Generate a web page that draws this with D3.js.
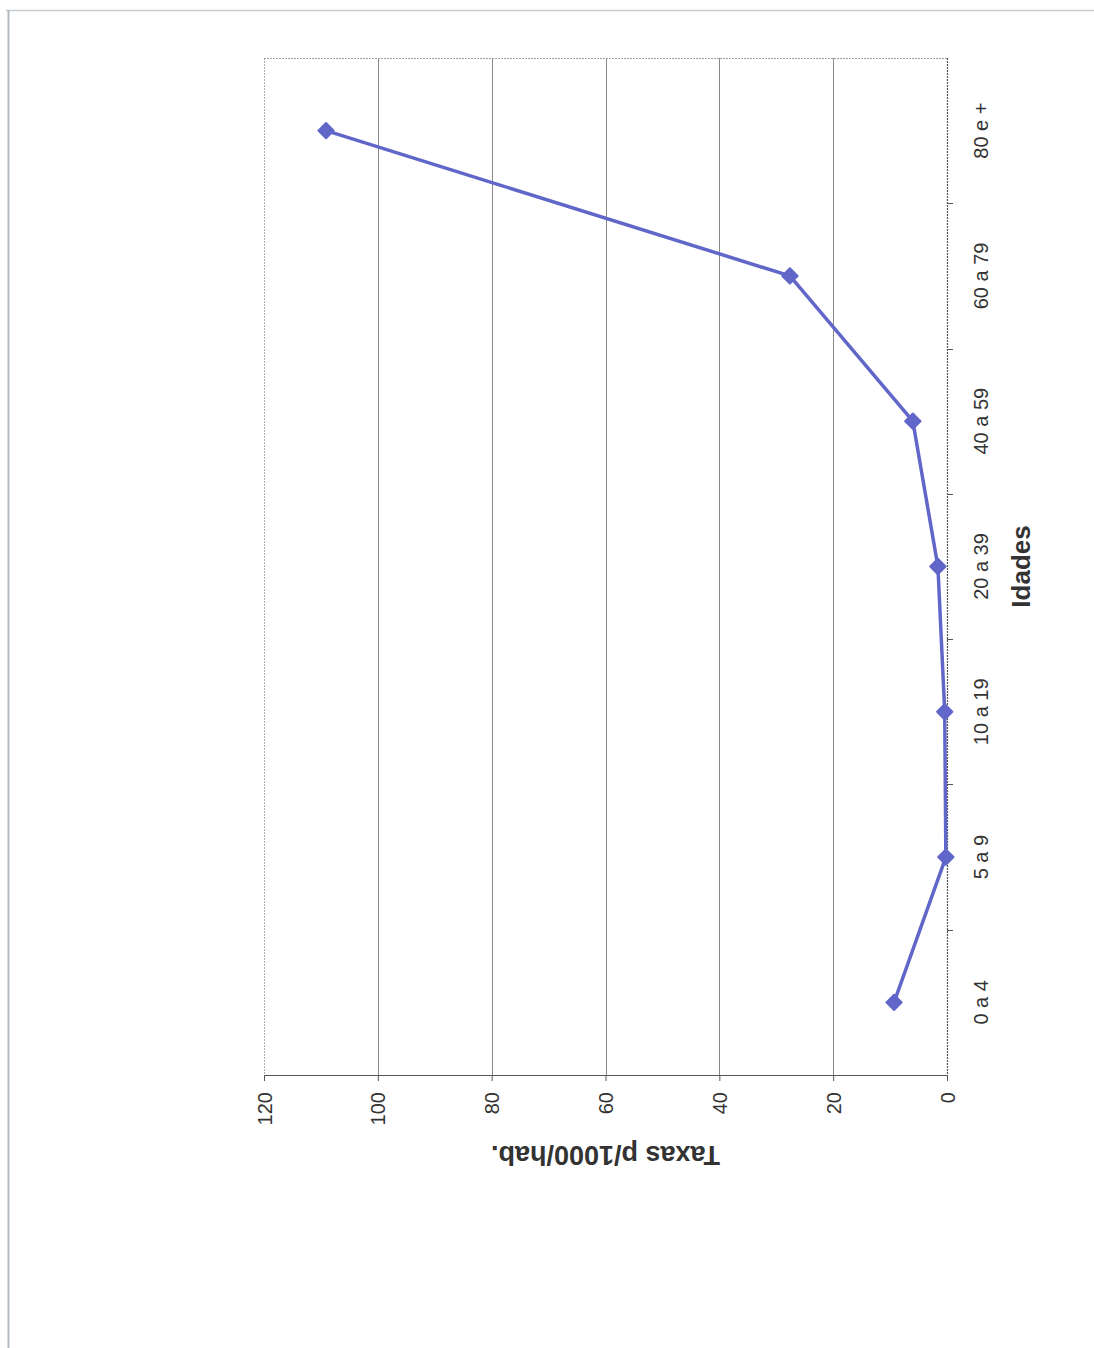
<!DOCTYPE html>
<html>
<head>
<meta charset="utf-8">
<script src="https://cdn.jsdelivr.net/npm/d3@7"></script>
<style>
  html, body { margin: 0; padding: 0; background: #fff; }
  svg { display: block; font-family: "Liberation Sans", Arial, sans-serif; }
</style>
</head>
<body>
<svg id="chart" width="1094" height="1348"></svg>
<script>
// Age groups and rates per 1000 inhabitants
const categories = ["0 a 4", "5 a 9", "10 a 19", "20 a 39", "40 a 59", "60 a 79", "80 e +"];
const rates = [9.3, 0.2, 0.4, 1.6, 6.0, 27.6, 109.1];
const rateTicks = [0, 20, 40, 60, 80, 100, 120];
const valueTitle = "Taxas p/1000/hab.";
const categoryTitle = "Idades";

const svg = d3.select("#chart");
const lineColor = "#6166c9";

// page frame
svg.append("line").attr("x1", 6).attr("x2", 1094).attr("y1", 10.5).attr("y2", 10.5)
  .attr("stroke", "#c8ccd2").attr("stroke-width", 1.5);
svg.append("line").attr("x1", 8.5).attr("x2", 8.5).attr("y1", 10).attr("y2", 1348)
  .attr("stroke", "#b4bac2").attr("stroke-width", 2);

// the chart is laid out sideways: values run right-to-left, ages bottom-to-top
const plot = { left: 264, right: 947, top: 58, bottom: 1075 };

const x = d3.scaleLinear().domain([0, 120]).range([plot.right, plot.left]);
const y = d3.scaleBand().domain(categories).range([plot.bottom, plot.top]);
const yc = d => y(d) + y.bandwidth() / 2;

// gridlines
svg.append("g").selectAll("line").data(rateTicks.filter(t => t > 0)).join("line")
  .attr("x1", d => Math.round(x(d)) + 0.5).attr("x2", d => Math.round(x(d)) + 0.5)
  .attr("y1", plot.top).attr("y2", plot.bottom)
  .attr("stroke", d => d === 120 ? "#b0b0b0" : "#8a8a8a")
  .attr("stroke-width", 1)
  .attr("stroke-dasharray", d => d === 120 ? "2,1" : null);

// top border
svg.append("line").attr("x1", plot.left).attr("x2", plot.right)
  .attr("y1", plot.top + 0.5).attr("y2", plot.top + 0.5)
  .attr("stroke", "#a0a0a0").attr("stroke-dasharray", "2,1");

// value axis (bottom)
const xAxis = d3.axisBottom(x).tickValues(rateTicks).tickSize(6).tickPadding(0).tickFormat(d3.format("d"));
const gx = svg.append("g").attr("transform", `translate(0,${plot.bottom})`).call(xAxis);
gx.select(".domain").attr("stroke", "#555").attr("stroke-width", 1.2).attr("d", `M${plot.left},0.5H${plot.right + 1}`);
gx.selectAll(".tick line").attr("stroke", "#555");
gx.selectAll(".tick text")
  .attr("font-size", 20).attr("fill", "#333")
  .attr("text-anchor", "end").attr("dy", "0.35em")
  .attr("transform", "translate(0,17) rotate(-90)")
  .attr("x", 0).attr("y", 0);

// category axis (right side)
const yAxis = d3.axisRight(y).tickSize(0).tickPadding(0);
const gy = svg.append("g").attr("transform", `translate(${plot.right},0)`).call(yAxis);
gy.select(".domain").attr("stroke", "#555").attr("stroke-width", 1.2)
  .attr("stroke-dasharray", "2,1").attr("d", `M0.5,${plot.top}V${plot.bottom}`);
gy.selectAll(".tick text")
  .attr("font-size", 20).attr("fill", "#333")
  .attr("text-anchor", "middle")
  .attr("transform", "translate(34,0) rotate(-90)")
  .attr("x", 0).attr("y", 0).attr("dy", "0.35em");
// band boundary ticks
gy.append("g").selectAll("line").data(categories.slice(0, -1)).join("line")
  .attr("x1", 0).attr("x2", 6)
  .attr("y1", d => Math.round(y(d)) + 0.5).attr("y2", d => Math.round(y(d)) + 0.5)
  .attr("stroke", "#555");

// axis titles
svg.append("text")
  .attr("transform", `translate(1021,${(plot.top + plot.bottom) / 2}) rotate(-90)`)
  .attr("text-anchor", "middle").attr("dy", "0.35em")
  .attr("font-size", 26).attr("font-weight", "bold").attr("fill", "#333")
  .text(categoryTitle);
svg.append("text")
  .attr("transform", `translate(${(plot.left + plot.right) / 2},1155) rotate(180)`)
  .attr("text-anchor", "middle").attr("dy", "0.35em")
  .attr("font-size", 27).attr("font-weight", "bold").attr("fill", "#333")
  .text(valueTitle);

// series line
const pts = categories.map((c, i) => ({ c, v: rates[i] }));
const line = d3.line().x(d => x(d.v)).y(d => yc(d.c));
svg.append("path").datum(pts)
  .attr("d", line).attr("fill", "none")
  .attr("stroke", lineColor).attr("stroke-width", 3.5).attr("stroke-linejoin", "round");

// diamond markers
const diamond = d3.symbol().type(d3.symbolDiamond2).size(150);
svg.append("g").selectAll("path").data(pts).join("path")
  .attr("transform", d => `translate(${x(d.v)},${yc(d.c)})`)
  .attr("d", diamond)
  .attr("fill", lineColor).attr("stroke", lineColor).attr("stroke-width", 2).attr("stroke-linejoin", "round");
</script>
</body>
</html>
